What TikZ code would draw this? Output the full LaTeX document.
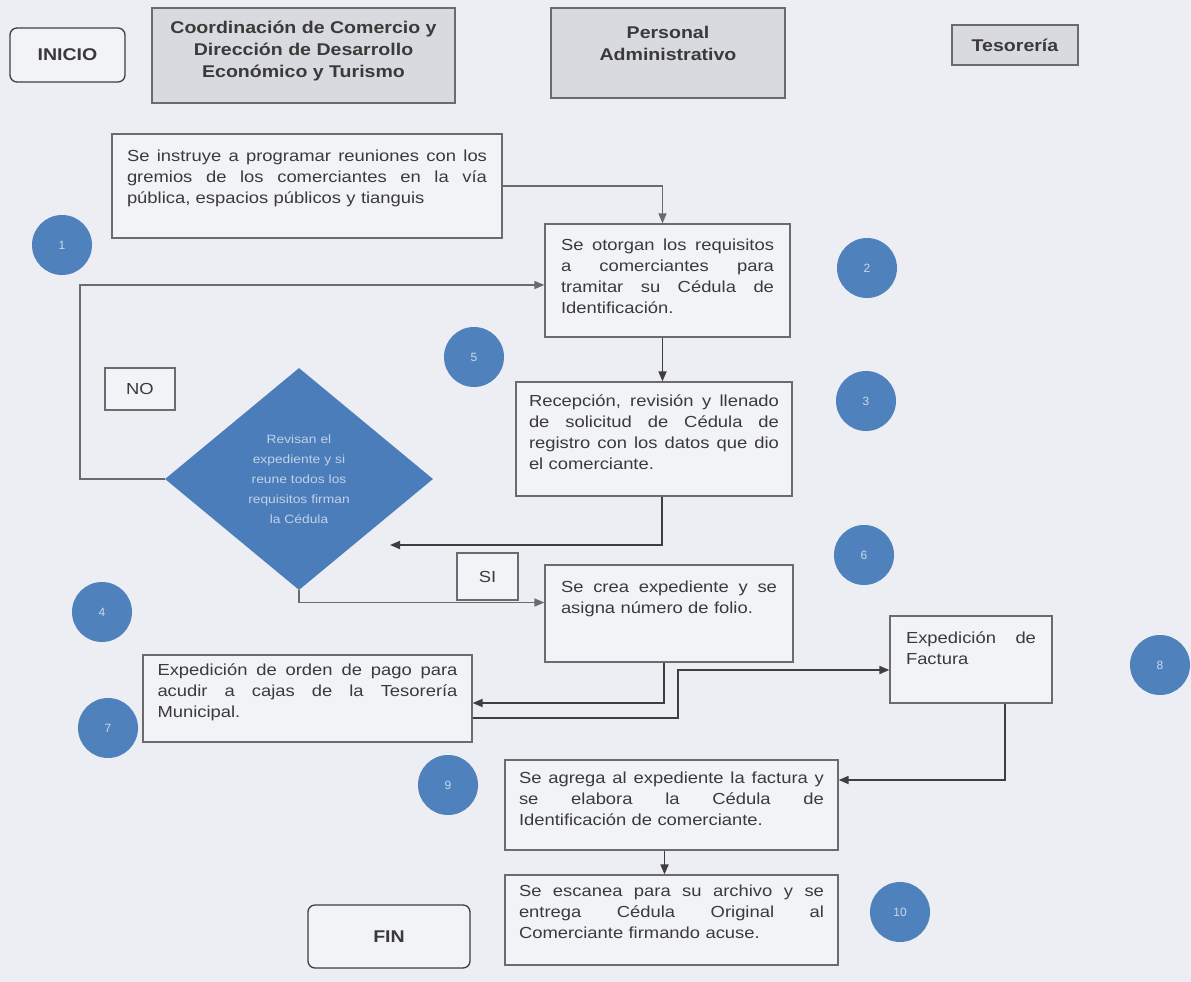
\documentclass[tikz,border=0pt]{standalone}
\usepackage{fontspec}
\setmainfont{Liberation Sans}
\newfontfamily\bodyf[FakeStretch=1.15]{Liberation Sans}
\usetikzlibrary{shapes.geometric,arrows.meta,calc}
\definecolor{bg}{HTML}{ECEEF3}
\definecolor{boxfill}{HTML}{F2F3F6}
\definecolor{hdr}{HTML}{D8DADF}
\definecolor{edge}{HTML}{6B6B6B}
\definecolor{circ}{HTML}{4F81BD}
\definecolor{dia}{HTML}{4B7DBB}
\definecolor{ln}{HTML}{3E3E3E}
\definecolor{txt}{HTML}{3A3A3A}
\newcommand{\jl}[2]{\leavevmode\hbox to #1{\spaceskip=\fontdimen2\font plus 1fil\relax #2}\\}
\begin{document}
\begin{tikzpicture}[x=1pt,y=-1pt,
  hdrbox/.style={draw=edge, fill=hdr, line width=1.2pt, text=txt, align=center, inner sep=0pt, font=\bodyf\fontsize{17}{22}\selectfont\bfseries},
  term/.style={draw=ln, fill=boxfill, rounded corners=7pt, line width=1.3pt, text=txt, font=\bodyf\fontsize{17}{20}\selectfont\bfseries},
  proc/.style={draw=edge, fill=boxfill, line width=1.2pt, text=txt, align=left, inner sep=0pt, font=\bodyf\fontsize{16}{21}\selectfont},
  num/.style={circle, fill=circ, inner sep=0pt, minimum size=60pt, text=white!70!circ, font=\fontsize{12}{12}\selectfont},
  lbl/.style={draw=edge, fill=boxfill, line width=1.2pt, text=txt, inner sep=0pt, font=\bodyf\fontsize{16}{16}\selectfont},
  arr/.style={draw=ln, line width=1.7pt, -{Triangle[length=10pt,width=8pt]}},
]
\fill[bg] (0,0) rectangle (1191,982);
\useasboundingbox (0,0) rectangle (1191,982);

% headers
\node[term, minimum width=115pt, minimum height=54pt] (inicio) at (67.5,55) {INICIO};
\node[hdrbox, minimum width=303pt, minimum height=95pt] (coord) at (303.5,55.5) {Coordinación de Comercio y\\Dirección de Desarrollo\\Económico y Turismo\\[-10pt]\mbox{}};
\node[hdrbox, minimum width=234pt, minimum height=90pt] (pers) at (668,53) {Personal\\Administrativo\\[-2pt]\mbox{}};
\node[hdrbox, minimum width=126pt, minimum height=40pt] (teso) at (1015,45) {Tesorería};

% process boxes
\node[proc, minimum width=390pt, minimum height=104pt, text width=360pt] (A) at (307,186)
  {\jl{360pt}{Se instruye a programar reuniones con los}\jl{360pt}{gremios de los comerciantes en la vía}pública, espacios públicos y tianguis\\[-3pt]\mbox{}};
\node[proc, minimum width=245pt, minimum height=113pt, text width=213pt] (B2) at (667.5,280.5)
  {\jl{213pt}{Se otorgan los requisitos}\jl{213pt}{a comerciantes para}\jl{213pt}{tramitar su Cédula de}Identificación.\\[-13pt]\mbox{}};
\node[proc, minimum width=276pt, minimum height=114pt, text width=250pt] (B3) at (654,439)
  {\jl{250pt}{Recepción, revisión y llenado}\jl{250pt}{de solicitud de Cédula de}\jl{250pt}{registro con los datos que dio}el comerciante.\\[-7pt]\mbox{}};
\node[proc, minimum width=248pt, minimum height=97pt, text width=216pt] (crea) at (669,613.5)
  {\jl{216pt}{Se crea expediente y se}asigna número de folio.\\[11pt]\mbox{}};
\node[proc, minimum width=329pt, minimum height=87pt, text width=300pt] (orden) at (307.5,698.5)
  {\jl{300pt}{Expedición de orden de pago para}\jl{300pt}{acudir a cajas de la Tesorería}Municipal.\\[-5pt]\mbox{}};
\node[proc, minimum width=162pt, minimum height=87pt, text width=130pt] (fact) at (971,659.5)
  {\jl{130pt}{Expedición de}Factura\\[1pt]\mbox{}};
\node[proc, minimum width=333pt, minimum height=90pt, text width=305pt] (B9) at (671.5,805)
  {\jl{305pt}{Se agrega al expediente la factura y}\jl{305pt}{se elabora la Cédula de}Identificación de comerciante.\\[-9pt]\mbox{}};
\node[proc, minimum width=333pt, minimum height=90pt, text width=305pt] (B10) at (671.5,920)
  {\jl{305pt}{Se escanea para su archivo y se}\jl{305pt}{entrega Cédula Original al}Comerciante firmando acuse.\\[-5pt]\mbox{}};

% decision
\node[diamond, fill=dia, minimum width=268pt, minimum height=222pt, inner sep=0pt, text width=110pt, align=center,
      text=white!65!dia, font=\bodyf\fontsize{12}{20}\selectfont] (D) at (299,479)
  {Revisan el\\expediente y si\\reune todos los\\requisitos firman\\la Cédula};

\node[lbl, minimum width=70pt, minimum height=42pt] (no) at (140,389) {NO};
\node[lbl, minimum width=61pt, minimum height=47pt] (si) at (487.5,576.5) {SI};

\node[term, minimum width=162pt, minimum height=63pt] (fin) at (389,936.5) {FIN};

% numbered circles
\node[num] (n1) at (62,245) {1};
\node[num] (n2) at (867,268) {2};
\node[num] (n3) at (866,401) {3};
\node[num] (n4) at (102,612) {4};
\node[num] (n5) at (474,357) {5};
\node[num] (n6) at (864,555) {6};
\node[num] (n7) at (108,728) {7};
\node[num] (n8) at (1160,665) {8};
\node[num] (n9) at (448,785) {9};
\node[num] (n10) at (900,912) {10};

% connectors
\coordinate (v1) at ($(B2.south)+(-5,0)$);
\coordinate (v2) at ($(B3.south)+(8,0)$);
\coordinate (dtip) at (390,545);
\coordinate (noc) at (80,285);
\coordinate (v3) at ($(crea.south)+(-5,0)$);
\coordinate (v4) at ($(orden.east)+(0,19.5)$);
\coordinate (v5) at (678,718);
\coordinate (v6) at ($(B9.south)+(-7,0)$);

\draw[arr, line width=1.3pt, draw=edge] (A.east) -| ($(B2.north)+(-5,0)$);
\draw[arr] (v1) -- (v1 |- B3.north);
\draw[arr] (v2) |- (dtip);
\draw[arr, line width=1.3pt, draw=edge] (D.west) -| (noc) -- (noc -| B2.west);
\draw[arr, line width=1.3pt, draw=edge] (D.south) |- ($(crea.west)+(0,-11)$);
\draw[arr] (v3) |- ($(orden.east)+(0,4.5)$);
\draw[arr] (v4) -- (v5) |- ($(fact.west)+(0,10.5)$);
\draw[arr] ($(fact.south)+(34,0)$) |- ($(B9.east)+(0,-25)$);
\draw[arr] (v6) -- (v6 |- B10.north);
\end{tikzpicture}
\end{document}
